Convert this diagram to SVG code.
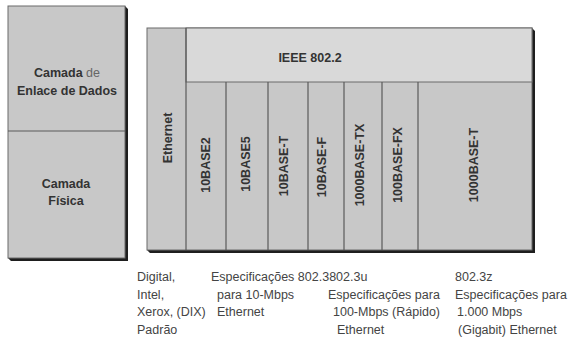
<svg xmlns="http://www.w3.org/2000/svg" width="574" height="339" viewBox="0 0 574 339">
<style>
.box{fill:#c8c8c8;stroke:#6a6a6a;stroke-width:1}
.band{fill:#d9d9d9;stroke:#6a6a6a;stroke-width:1}
.div{stroke:#5a5a5a;stroke-width:1.2;fill:none}
.shadow{fill:#1e1e1e}
.lbl{font-family:"Liberation Sans",Arial,sans-serif;font-weight:bold;font-size:12.5px;fill:#333;text-anchor:middle}
.vl{font-family:"Liberation Sans",Arial,sans-serif;font-weight:bold;font-size:12.5px;fill:#333;text-anchor:middle;dominant-baseline:central}
.note{font-family:"Liberation Sans",Arial,sans-serif;font-size:12.5px;fill:#444}
</style>
<rect width="574" height="339" fill="#ffffff"/>

<g id="osi-layers">
  <polygon class="shadow" points="125,6 128,9 128,261 11,261 8,258 125,258"/>
  <rect class="box" x="8" y="6" width="117" height="252"/>
  <line class="div" x1="8" y1="131" x2="125" y2="131"/>
  <g id="data-link-layer">
    <text class="lbl" x="67" y="77">Camada <tspan font-weight="normal" fill="#666">de</tspan></text>
    <text class="lbl" x="67" y="95">Enlace de Dados</text>
  </g>
  <g id="physical-layer">
    <text class="lbl" x="66" y="188">Camada</text>
    <text class="lbl" x="66" y="205">Física</text>
  </g>
</g>

<g id="ieee-stack">
  <polygon class="shadow" points="532,28 535,31 535,253 150,253 147,250 532,250"/>
  <rect class="box" x="147" y="28" width="385" height="222"/>
  <rect class="band" x="186" y="28" width="346" height="54"/>
  <line class="div" x1="186" y1="28" x2="186" y2="250"/>
  <line class="div" x1="226" y1="82" x2="226" y2="250"/>
  <line class="div" x1="268" y1="82" x2="268" y2="250"/>
  <line class="div" x1="308" y1="82" x2="308" y2="250"/>
  <line class="div" x1="344" y1="82" x2="344" y2="250"/>
  <line class="div" x1="382" y1="82" x2="382" y2="250"/>
  <line class="div" x1="418" y1="82" x2="418" y2="250"/>
  <g id="ethernet"><text class="vl" transform="translate(168,138) rotate(-90)">Ethernet</text></g>
  <g id="ieee-802-2"><text class="lbl" x="310" y="62">IEEE 802.2</text></g>
  <g id="b10base2"><text class="vl" transform="translate(206,165) rotate(-90)">10BASE2</text></g>
  <g id="b10base5"><text class="vl" transform="translate(246,164) rotate(-90)">10BASE5</text></g>
  <g id="b10baset"><text class="vl" transform="translate(284,166) rotate(-90)">10BASE-T</text></g>
  <g id="b10basef"><text class="vl" transform="translate(322,167) rotate(-90)">10BASE-F</text></g>
  <g id="b1000basetx"><text class="vl" transform="translate(360,165) rotate(-90)">1000BASE-TX</text></g>
  <g id="b100basefx"><text class="vl" transform="translate(398,165) rotate(-90)">100BASE-FX</text></g>
  <g id="b1000baset"><text class="vl" transform="translate(474,165) rotate(-90)">1000BASE-T</text></g>
</g>

<g id="notes">
  <text class="note" x="137" y="281">Digital,</text>
  <text class="note" x="137" y="298.5">Intel,</text>
  <text class="note" x="137" y="316">Xerox, (DIX)</text>
  <text class="note" x="137" y="333.5">Padrão</text>

  <text class="note" x="211" y="281">Especificações 802.3802.3u</text>
  <text class="note" x="217" y="298.5">para 10-Mbps</text>
  <text class="note" x="217" y="316">Ethernet</text>

  <text class="note" x="328" y="298.5">Especificações para</text>
  <text class="note" x="333" y="316">100-Mbps (Rápido)</text>
  <text class="note" x="337" y="333.5">Ethernet</text>

  <text class="note" x="455" y="281">802.3z</text>
  <text class="note" x="455" y="298.5">Especificações para</text>
  <text class="note" x="457" y="316">1.000 Mbps</text>
  <text class="note" x="458" y="333.5">(Gigabit) Ethernet</text>
</g>
</svg>
